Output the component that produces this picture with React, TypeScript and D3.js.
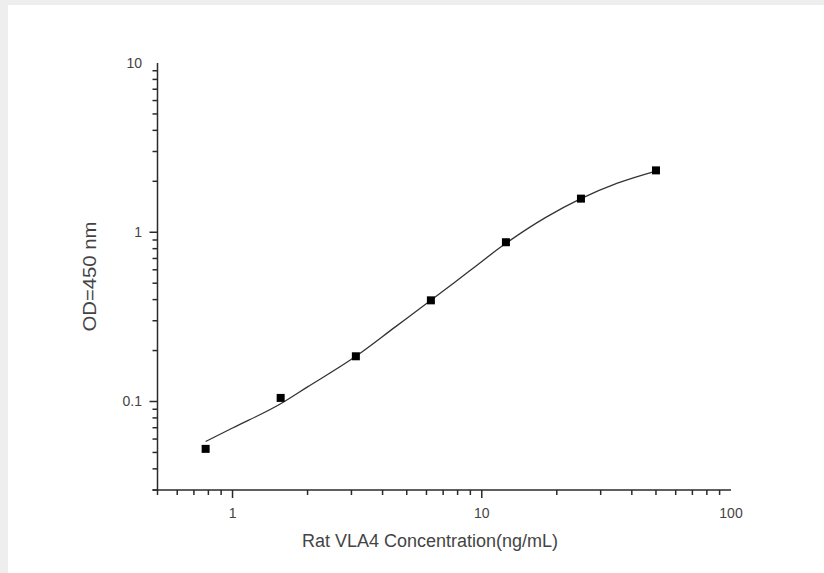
import React from "react";
import * as d3 from "d3";

const concentrations = [0.78, 1.56, 3.125, 6.25, 12.5, 25, 50];
const odValues = [0.0525, 0.105, 0.185, 0.396, 0.873, 1.58, 2.32];

const curveX = [0.78, 1.0, 1.56, 2.0, 3.125, 4.5, 6.25, 9.0, 12.5, 18, 25, 35, 50];
const curveY = [0.058, 0.0697, 0.097, 0.122, 0.185, 0.276, 0.396, 0.596, 0.86, 1.22, 1.58, 1.95, 2.3];

const xTickLabels = [1, 10, 100];
const yTickLabels = [0.1, 1, 10];

const xTitle = "Rat VLA4 Concentration(ng/mL)";
const yTitle = "OD=450 nm";

export default function App() {
  const W = 824, H = 573;
  const left = 157.5, right = 731, top = 63, bottom = 490;
  const x = d3.scaleLog().domain([0.5, 100]).range([left, right]);
  const y = d3.scaleLog().domain([0.03, 10]).range([bottom, top]);

  const xMinor: number[] = [];
  [0.1, 1, 10].forEach((d) => {
    for (let k = 1; k <= 9; k++) {
      const v = d * k;
      if (v >= 0.5 - 1e-9 && v <= 100 + 1e-9) xMinor.push(v);
    }
  });
  const yMinor: number[] = [];
  [0.01, 0.1, 1].forEach((d) => {
    for (let k = 1; k <= 9; k++) {
      const v = d * k;
      if (v >= 0.03 - 1e-9 && v <= 10 + 1e-9) yMinor.push(v);
    }
  });
  const isMajor = (v: number) => Math.abs(Math.log10(v) - Math.round(Math.log10(v))) < 1e-6;

  const line = d3
    .line<number>()
    .x((_, i) => x(curveX[i]))
    .y((d) => y(d))
    .curve(d3.curveMonotoneX);

  const axisColor = "#2a2a2a";
  const textColor = "#444";
  const font = "'Liberation Sans', Arial, sans-serif";

  return (
    <svg
      width={W}
      height={H}
      style={{ position: "absolute", left: 0, top: 0 }}
      fontFamily={font}
    >
      <rect x={0} y={0} width={W} height={H} fill="#eeeeee" />
      <rect x={8} y={5} width={W - 8} height={H - 5} fill="#ffffff" />

      <path d={line(curveY) || ""} fill="none" stroke="#333" strokeWidth={1.3} />

      {concentrations.map((c, i) => (
        <rect
          key={i}
          x={x(c) - 4}
          y={y(odValues[i]) - 4}
          width={8}
          height={8}
          fill="#000"
        />
      ))}

      {/* axes */}
      <line x1={left} x2={left} y1={top} y2={bottom} stroke={axisColor} strokeWidth={1.5} />
      <line x1={left} x2={right} y1={bottom} y2={bottom} stroke={axisColor} strokeWidth={1.5} />

      {xMinor.map((v, i) => (
        <line
          key={"xm" + i}
          x1={x(v)}
          x2={x(v)}
          y1={bottom}
          y2={bottom + (isMajor(v) ? 8 : 5)}
          stroke={axisColor}
          strokeWidth={1.5}
        />
      ))}
      {yMinor.map((v, i) => (
        <line
          key={"ym" + i}
          x1={left}
          x2={left - (isMajor(v) ? 8 : 5)}
          y1={y(v)}
          y2={y(v)}
          stroke={axisColor}
          strokeWidth={1.5}
        />
      ))}
      <line x1={left - 5} x2={left} y1={bottom} y2={bottom} stroke={axisColor} strokeWidth={1.5} />

      {xTickLabels.map((v) => (
        <text key={"xl" + v} x={x(v)} y={518} textAnchor="middle" fontSize={14} fill={textColor}>
          {v}
        </text>
      ))}
      {yTickLabels.map((v) => (
        <text
          key={"yl" + v}
          x={142}
          y={y(v)}
          dy="0.35em"
          textAnchor="end"
          fontSize={14}
          fill={textColor}
        >
          {v}
        </text>
      ))}

      <text x={430} y={547} textAnchor="middle" fontSize={18} fill={textColor}>
        {xTitle}
      </text>
      <text
        transform={`translate(96, ${(top + bottom) / 2}) rotate(-90)`}
        textAnchor="middle"
        fontSize={18}
        textLength={110}
        lengthAdjust="spacingAndGlyphs"
        fill={textColor}
      >
        {yTitle}
      </text>
    </svg>
  );
}
